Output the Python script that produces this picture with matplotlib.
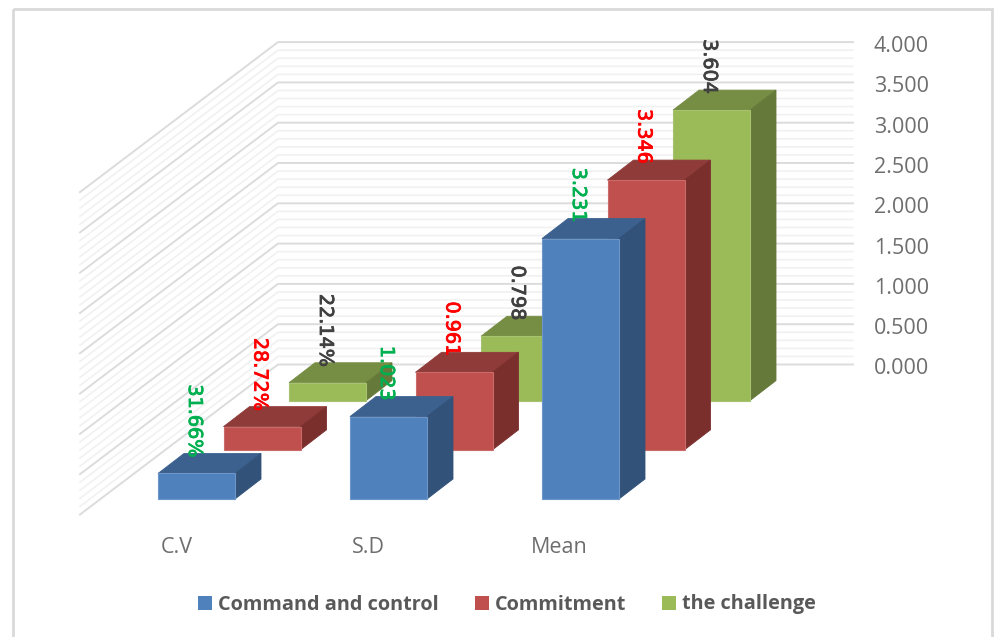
import matplotlib
matplotlib.use("Agg")
import matplotlib.pyplot as plt
import matplotlib.patheffects as pe
from matplotlib.patches import Polygon, Patch, Rectangle

categories = ["C.V", "S.D", "Mean"]
series_names = ["Command and control", "Commitment", "the challenge"]
command_values = [0.3166, 1.023, 3.231]
commitment_values = [0.2872, 0.961, 3.346]
challenge_values = [0.2214, 0.798, 3.604]
command_labels = ["31.66%", "1.023", "3.231"]
commitment_labels = ["28.72%", "0.961", "3.346"]
challenge_labels = ["22.14%", "0.798", "3.604"]
tick_values = [0, 0.5, 1, 1.5, 2, 2.5, 3, 3.5, 4]
minor_step_count = 40

front = ["#4f81bd", "#c0504d", "#9bbb59"]
top = ["#3c618f", "#8e3b39", "#768d44"]
side = ["#32527a", "#7b2f2d", "#65793a"]
edge = ["#6d96c8", "#c96c69", "#a7c36f"]
label_colors = ["#00b050", "#ff0000", "#404040"]

W, H = 996, 637
PX_PER_UNIT = 80.6
WALL_Y0, WALL_X0, WALL_X1, WALL_LEFT = 364.5, 278, 853, 80
WALL_DY = 150.0
BAR_W, DEPTH_X, DEPTH_Y = 77, 26, 20
X0, Y0, CAT_DX, SER_DX, SER_DY = 158, 499, 192, 65.5, 49.2

fig = plt.figure(figsize=(W / 100, H / 100), dpi=100, facecolor="white")
ax = fig.add_axes([0, 0, 1, 1])
ax.set_xlim(0, W)
ax.set_ylim(H, 0)
ax.axis("off")

ax.add_patch(Rectangle((12.5, 8.5), 979, 640, fill=False, ec="#d9d9d9", lw=2, zorder=0))


def wall_y(v):
    return WALL_Y0 - v * PX_PER_UNIT


for k in range(minor_step_count + 1):
    v = k / 10
    major = k % 5 == 0
    ax.plot([WALL_LEFT, WALL_X0, WALL_X1],
            [wall_y(v) + WALL_DY, wall_y(v), wall_y(v)],
            color="#dcdcdc" if major else "#f1f1f1", lw=1.4 if major else 1.2,
            solid_joinstyle="miter", zorder=1)

for v in tick_values:
    ax.text(874, wall_y(v) + 4.5, f"{v:.3f}", color="#6e6e6e", fontsize=15.5,
            family="Open Sans", ha="left", va="center")


def draw_bar(i, j, value, label):
    x = X0 + CAT_DX * i + SER_DX * j
    base = Y0 - SER_DY * j
    y = base - value * PX_PER_UNIT
    z = 10 + (2 - j) * 10 + i
    ax.add_patch(Polygon([(x, y), (x + DEPTH_X, y - DEPTH_Y),
                          (x + BAR_W + DEPTH_X, y - DEPTH_Y), (x + BAR_W, y)],
                         fc=top[j], ec=top[j], lw=0.6, zorder=z))
    ax.add_patch(Polygon([(x + BAR_W, y), (x + BAR_W + DEPTH_X, y - DEPTH_Y),
                          (x + BAR_W + DEPTH_X, base - DEPTH_Y), (x + BAR_W, base)],
                         fc=side[j], ec=side[j], lw=0.6, zorder=z))
    ax.add_patch(Rectangle((x, y), BAR_W, base - y, fc=front[j], ec=edge[j], lw=0.8, zorder=z))
    ax.text(x + BAR_W / 2 - 2, y - DEPTH_Y + 4, label, rotation=270, color=label_colors[j],
            fontsize=13.8, family="DejaVu Sans", ha="center", va="bottom", zorder=60,
            path_effects=[pe.withStroke(linewidth=0.6, foreground=label_colors[j])])


all_values = [command_values, commitment_values, challenge_values]
all_labels = [command_labels, commitment_labels, challenge_labels]
for j in (2, 1, 0):
    for i in range(len(categories)):
        draw_bar(i, j, all_values[j][i], all_labels[j][i])

for i, c in enumerate(categories):
    ax.text(177 + 191 * i, 547.5, c, color="#6e6e6e", fontsize=15.5,
            family="Open Sans", ha="center", va="center")

handles = [Patch(fc=front[j], ec="none", label=series_names[j]) for j in range(3)]
leg = ax.legend(handles=handles, ncols=3, frameon=False, loc="center",
                bbox_to_anchor=(507 / W, 1 - 604.5 / H),
                prop={"family": "Open Sans", "weight": "bold", "size": 14.3},
                handlelength=0.7, handleheight=0.7, handletextpad=0.3, columnspacing=1.8,
                labelcolor="#595959")

fig.savefig("out.png", dpi=100, facecolor="white")
